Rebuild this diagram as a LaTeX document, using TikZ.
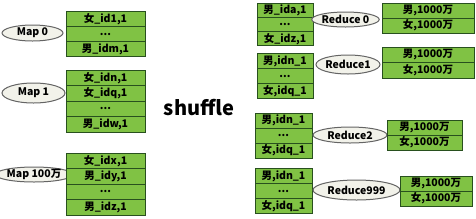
\documentclass[tikz,border=0pt]{standalone}
\usepackage{fontspec}
\setmainfont{Noto Sans CJK SC}
\usetikzlibrary{shapes.geometric}
\definecolor{cellgreen}{RGB}{128,194,68}
\definecolor{celledge}{RGB}{40,80,30}
\definecolor{ovalfill}{RGB}{242,242,234}
\definecolor{ovaledge}{RGB}{100,100,100}
\tikzset{
  cell/.style={draw=celledge, fill=cellgreen, line width=1pt, inner sep=0pt, font=\bfseries\fontsize{10.5}{12}\selectfont},
  task/.style={ellipse, draw=ovaledge, fill=ovalfill, line width=1pt, inner sep=0pt, font=\bfseries\fontsize{10.5}{12}\selectfont}
}
\begin{document}
\begin{tikzpicture}[x=1pt, y=-1pt]
\useasboundingbox (0,0) rectangle (476,218);
% map side
\node[task, minimum width=61, minimum height=16] (map0) at (32.5,33) {Map 0};
\node[task, minimum width=63, minimum height=20] (map1) at (33.5,93) {Map 1};
\node[task, minimum width=64, minimum height=15] (mapw) at (34,174.5) {Map 100万};
\node[cell, minimum width=79, minimum height=15.3] (m0a) at (105.5,18.7) {女\_id1,1};
\node[cell, minimum width=79, minimum height=15.3] (m0b) at (105.5,34) {...};
\node[cell, minimum width=79, minimum height=15.3] (m0c) at (105.5,49.3) {男\_idm,1};
\node[cell, minimum width=79, minimum height=15.5] (m1a) at (105.5,77.75) {女\_idn,1};
\node[cell, minimum width=79, minimum height=15.5] (m1b) at (105.5,93.25) {女\_idq,1};
\node[cell, minimum width=79, minimum height=15.5] (m1c) at (105.5,108.75) {...};
\node[cell, minimum width=79, minimum height=15.5] (m1d) at (105.5,124.25) {男\_idw,1};
\node[cell, minimum width=79, minimum height=15.5] (mwa) at (105.5,160.75) {女\_idx,1};
\node[cell, minimum width=79, minimum height=15.5] (mwb) at (105.5,176.25) {男\_idy,1};
\node[cell, minimum width=79, minimum height=15.5] (mwc) at (105.5,191.75) {...};
\node[cell, minimum width=79, minimum height=15.5] (mwd) at (105.5,207.25) {男\_idz,1};
\node[font=\bfseries\fontsize{20}{24}\selectfont] (shuffle) at (199,108) {shuffle};
% reduce side
\node[cell, minimum width=56, minimum height=14.3] (r0a) at (285,10.2) {男\_ida,1};
\node[cell, minimum width=56, minimum height=14.3] (r0b) at (285,24.5) {...};
\node[cell, minimum width=56, minimum height=14.3] (r0c) at (285,38.8) {女\_idz,1};
\node[cell, minimum width=56, minimum height=14.7] (r1a) at (285,61.3) {男,idn\_1};
\node[cell, minimum width=56, minimum height=14.7] (r1b) at (285,76) {...};
\node[cell, minimum width=56, minimum height=14.7] (r1c) at (285,90.7) {女,idq\_1};
\node[cell, minimum width=57, minimum height=15] (r2a) at (283.5,120.5) {男,idn\_1};
\node[cell, minimum width=57, minimum height=15] (r2b) at (283.5,135.5) {...};
\node[cell, minimum width=57, minimum height=15] (r2c) at (283.5,150.5) {女,idq\_1};
\node[cell, minimum width=57, minimum height=14.7] (r9a) at (283.5,176.3) {男,idn\_1};
\node[cell, minimum width=57, minimum height=14.7] (r9b) at (283.5,191) {...};
\node[cell, minimum width=57, minimum height=14.7] (r9c) at (283.5,205.7) {女,idq\_1};
\node[task, minimum width=63, minimum height=15] (red0) at (345.5,19.5) {Reduce 0};
\node[task, minimum width=62, minimum height=19] (red1) at (348,64.5) {Reduce1};
\node[task, minimum width=74, minimum height=16] (red2) at (350,135) {Reduce2};
\node[task, minimum width=87, minimum height=20] (red9) at (356.5,190) {Reduce999};
\node[cell, minimum width=92, minimum height=15] (o0a) at (428,10.5) {男,1000万};
\node[cell, minimum width=92, minimum height=15] (o0b) at (428,25.5) {女,1000万};
\node[cell, minimum width=92, minimum height=15.5] (o1a) at (428,54.75) {男,1000万};
\node[cell, minimum width=92, minimum height=15.5] (o1b) at (428,70.25) {女,1000万};
\node[cell, minimum width=75, minimum height=15] (o2a) at (424.5,127.5) {男,1000万};
\node[cell, minimum width=75, minimum height=15] (o2b) at (424.5,142.5) {女,1000万};
\node[cell, minimum width=72, minimum height=15] (o9a) at (436,183.5) {男,1000万};
\node[cell, minimum width=72, minimum height=15] (o9b) at (436,198.5) {女,1000万};
\end{tikzpicture}
\end{document}
